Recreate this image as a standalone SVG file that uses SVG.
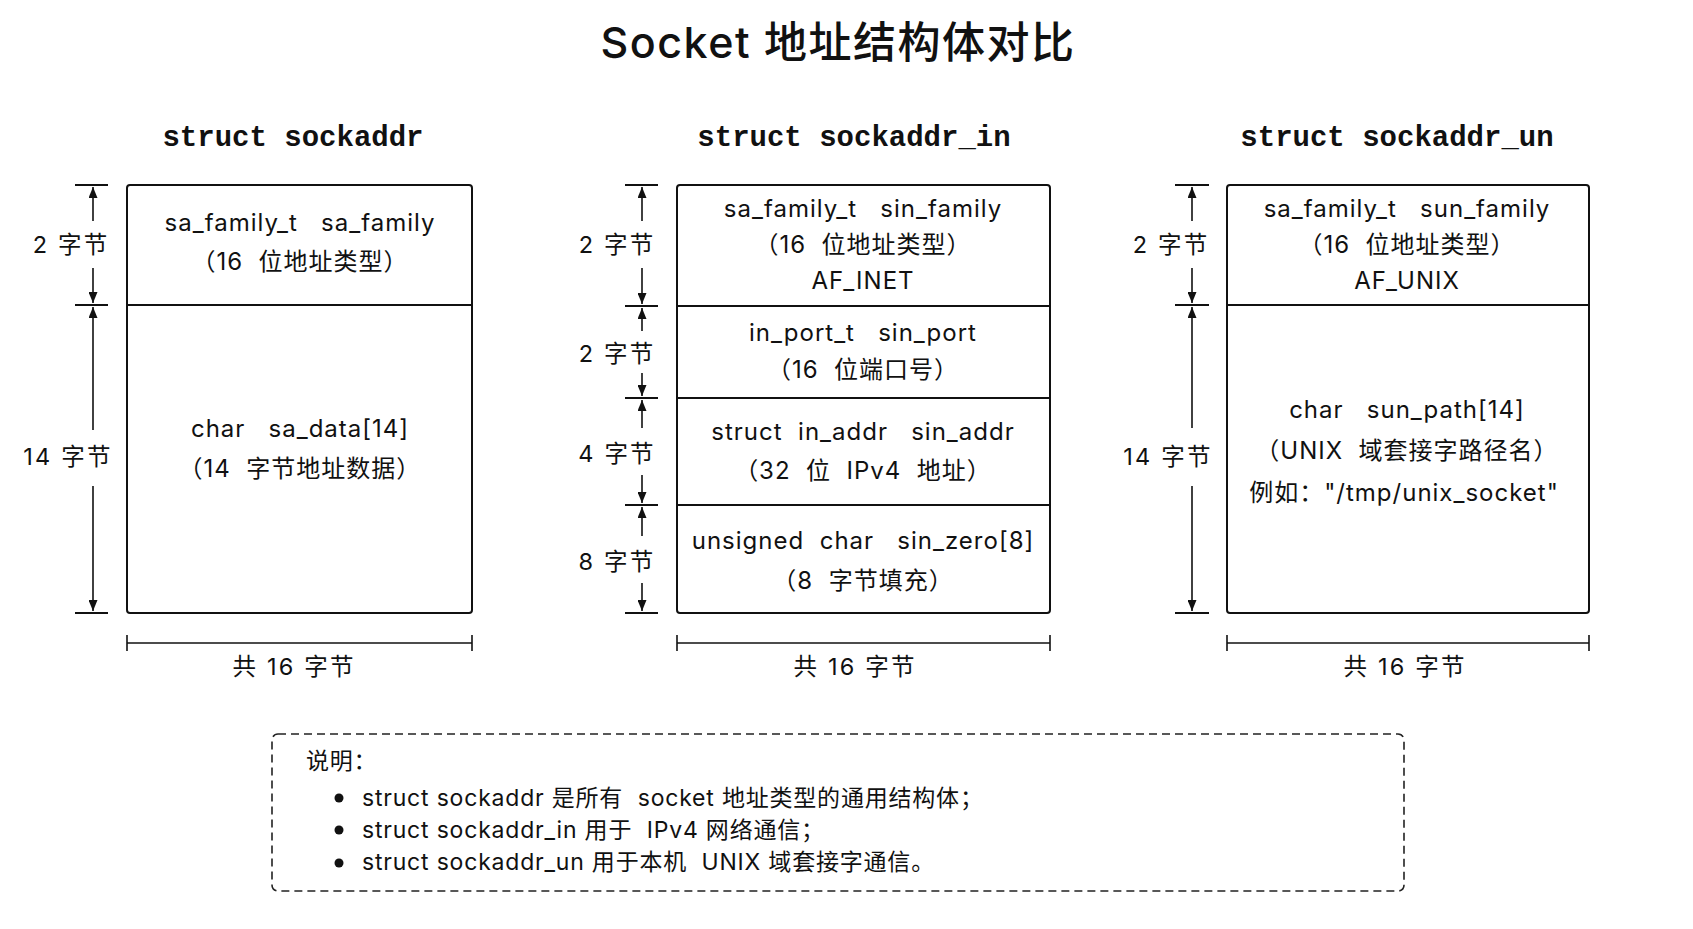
<svg xmlns="http://www.w3.org/2000/svg" width="1693" height="929" viewBox="0 0 1693 929">
<style>
text{font-family:"Inter","Noto Sans CJK SC",sans-serif;fill:#111;white-space:pre}
.title{font-size:43px;font-weight:500;text-anchor:middle;letter-spacing:1.5px}
.hdr{font-family:"Liberation Mono","Noto Sans CJK SC",monospace;font-size:29px;font-weight:700;text-anchor:middle}
.body{font-size:24px;text-anchor:middle;letter-spacing:1px}
.lbl{font-size:23.5px;text-anchor:middle;letter-spacing:2.2px}
.note{font-size:23px;letter-spacing:0.8px}
.box{fill:#fff;stroke:#111;stroke-width:2}
.div{stroke:#111;stroke-width:2}
.tick{stroke:#111;stroke-width:1.8}
.dim{stroke:#111;stroke-width:1.6;fill:none;marker-end:url(#ah)}
.tot{stroke:#111;stroke-width:1.6}
.dash{fill:none;stroke:#222;stroke-width:1.6;stroke-dasharray:8 5}
</style>
<defs>
<marker id="ah" markerUnits="userSpaceOnUse" markerWidth="12" markerHeight="9" refX="11" refY="4.5" orient="auto">
<path d="M0,0 L11,4.5 L0,9 z" fill="#111"/>
</marker>
</defs>
<rect width="1693" height="929" fill="#fff"/>
<text class="title" x="838" y="58">Socket 地址结构体对比</text>

<g id="sockaddr">
<text class="hdr" x="293" y="146">struct sockaddr</text>
<rect class="box" x="127" y="185" width="345" height="428" rx="3"/>
<line class="div" x1="127" y1="305" x2="472" y2="305"/>
<text class="body" x="300" y="231">sa_family_t   sa_family</text>
<text class="body" x="300" y="270">（16  位地址类型）</text>
<text class="body" x="300" y="437">char   sa_data[14]</text>
<text class="body" x="300" y="477">（14  字节地址数据）</text>
</g>

<g id="sockaddr_in">
<text class="hdr" x="854" y="146">struct sockaddr_in</text>
<rect class="box" x="677" y="185" width="373" height="428" rx="3"/>
<line class="div" x1="677" y1="306" x2="1050" y2="306"/>
<line class="div" x1="677" y1="398" x2="1050" y2="398"/>
<line class="div" x1="677" y1="505" x2="1050" y2="505"/>
<text class="body" x="863" y="217">sa_family_t   sin_family</text>
<text class="body" x="863" y="253">（16  位地址类型）</text>
<text class="body" x="863" y="289">AF_INET</text>
<text class="body" x="863" y="341">in_port_t   sin_port</text>
<text class="body" x="863" y="378">（16  位端口号）</text>
<text class="body" x="863" y="440">struct  in_addr   sin_addr</text>
<text class="body" x="863" y="479">（32  位  IPv4  地址）</text>
<text class="body" x="863" y="549">unsigned  char   sin_zero[8]</text>
<text class="body" x="863" y="589">（8  字节填充）</text>
</g>

<g id="sockaddr_un">
<text class="hdr" x="1397" y="146">struct sockaddr_un</text>
<rect class="box" x="1227" y="185" width="362" height="428" rx="3"/>
<line class="div" x1="1227" y1="305" x2="1589" y2="305"/>
<text class="body" x="1407" y="217">sa_family_t   sun_family</text>
<text class="body" x="1407" y="253">（16  位地址类型）</text>
<text class="body" x="1407" y="289">AF_UNIX</text>
<text class="body" x="1407" y="418">char   sun_path[14]</text>
<text class="body" x="1407" y="459">（UNIX  域套接字路径名）</text>
<text class="body" x="1404" y="501">例如："/tmp/unix_socket"</text>
</g>

<g id="connectors">
<line class="tick" x1="75" y1="185" x2="108" y2="185"/>
<line class="tick" x1="75" y1="305" x2="108" y2="305"/>
<line class="tick" x1="75" y1="613" x2="108" y2="613"/>
<line class="dim" x1="93" y1="221" x2="93" y2="187"/>
<line class="dim" x1="93" y1="268" x2="93" y2="303"/>
<line class="dim" x1="93" y1="430" x2="93" y2="307"/>
<line class="dim" x1="93" y1="486" x2="93" y2="611"/>
<line class="tick" x1="625" y1="185" x2="658" y2="185"/>
<line class="tick" x1="625" y1="306" x2="658" y2="306"/>
<line class="tick" x1="625" y1="398" x2="658" y2="398"/>
<line class="tick" x1="625" y1="505" x2="658" y2="505"/>
<line class="tick" x1="625" y1="613" x2="658" y2="613"/>
<line class="dim" x1="642" y1="221" x2="642" y2="187"/>
<line class="dim" x1="642" y1="268" x2="642" y2="304"/>
<line class="dim" x1="642" y1="331" x2="642" y2="308"/>
<line class="dim" x1="642" y1="373" x2="642" y2="396"/>
<line class="dim" x1="642" y1="428" x2="642" y2="400"/>
<line class="dim" x1="642" y1="475" x2="642" y2="503"/>
<line class="dim" x1="642" y1="536" x2="642" y2="507"/>
<line class="dim" x1="642" y1="583" x2="642" y2="611"/>
<line class="tick" x1="1175" y1="185" x2="1209" y2="185"/>
<line class="tick" x1="1175" y1="305" x2="1209" y2="305"/>
<line class="tick" x1="1175" y1="613" x2="1209" y2="613"/>
<line class="dim" x1="1192" y1="221" x2="1192" y2="187"/>
<line class="dim" x1="1192" y1="268" x2="1192" y2="303"/>
<line class="dim" x1="1192" y1="428" x2="1192" y2="307"/>
<line class="dim" x1="1192" y1="486" x2="1192" y2="611"/>
<line class="tot" x1="127" y1="643" x2="472" y2="643"/>
<line class="tot" x1="127" y1="635" x2="127" y2="651"/>
<line class="tot" x1="472" y1="635" x2="472" y2="651"/>
<line class="tot" x1="677" y1="643" x2="1050" y2="643"/>
<line class="tot" x1="677" y1="635" x2="677" y2="651"/>
<line class="tot" x1="1050" y1="635" x2="1050" y2="651"/>
<line class="tot" x1="1227" y1="643" x2="1589" y2="643"/>
<line class="tot" x1="1227" y1="635" x2="1227" y2="651"/>
<line class="tot" x1="1589" y1="635" x2="1589" y2="651"/>
</g>

<g id="labels">
<text class="lbl" x="71" y="253">2 字节</text>
<text class="lbl" x="68" y="465">14 字节</text>
<text class="lbl" x="617" y="253">2 字节</text>
<text class="lbl" x="617" y="362">2 字节</text>
<text class="lbl" x="617" y="462">4 字节</text>
<text class="lbl" x="617" y="570">8 字节</text>
<text class="lbl" x="1171" y="253">2 字节</text>
<text class="lbl" x="1168" y="465">14 字节</text>
<text class="lbl" x="294" y="675">共 16 字节</text>
<text class="lbl" x="855" y="675">共 16 字节</text>
<text class="lbl" x="1405" y="675">共 16 字节</text>
</g>

<g id="notes">
<rect class="dash" x="272" y="734" width="1132" height="157" rx="6"/>
<text class="note" x="306" y="769">说明：</text>
<circle cx="339" cy="798" r="4.5" fill="#111"/>
<circle cx="339" cy="830" r="4.5" fill="#111"/>
<circle cx="339" cy="863" r="4.5" fill="#111"/>
<text class="note" x="362" y="806">struct sockaddr 是所有  socket 地址类型的通用结构体；</text>
<text class="note" x="362" y="838">struct sockaddr_in 用于  IPv4 网络通信；</text>
<text class="note" x="362" y="870">struct sockaddr_un 用于本机  UNIX 域套接字通信。</text>
</g>
</svg>
